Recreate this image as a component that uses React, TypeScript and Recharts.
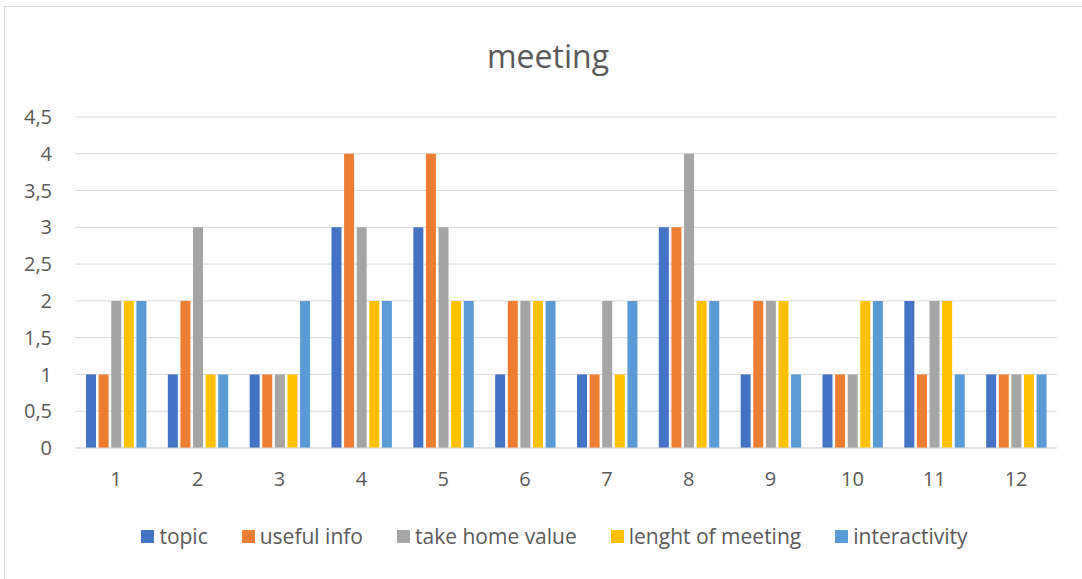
import React from 'react';
import { BarChart, Bar, XAxis, YAxis, CartesianGrid, Legend } from 'recharts';

const categories = ['1', '2', '3', '4', '5', '6', '7', '8', '9', '10', '11', '12'];
const topic = [1, 1, 1, 3, 3, 1, 1, 3, 1, 1, 2, 1];
const usefulInfo = [1, 2, 1, 4, 4, 2, 1, 3, 2, 1, 1, 1];
const takeHomeValue = [2, 3, 1, 3, 3, 2, 2, 4, 2, 1, 2, 1];
const lenghtOfMeeting = [2, 1, 1, 2, 2, 2, 1, 2, 2, 2, 2, 1];
const interactivity = [2, 1, 2, 2, 2, 2, 2, 2, 1, 2, 1, 1];
const yTicks = [0, 0.5, 1, 1.5, 2, 2.5, 3, 3.5, 4, 4.5];

const seriesNames = ['topic', 'useful info', 'take home value', 'lenght of meeting', 'interactivity'];
const seriesColors = ['#4472C4', '#ED7D31', '#A5A5A5', '#FFC000', '#5B9BD5'];
const seriesValues = [topic, usefulInfo, takeHomeValue, lenghtOfMeeting, interactivity];

const data = categories.map((c, i) => {
  const row: Record<string, string | number> = { name: c };
  seriesNames.forEach((s, k) => {
    row[s] = seriesValues[k][i];
  });
  return row;
});

const FONT = '"Open Sans", sans-serif';
const TEXT = '#595959';
const GRID = '#D9D9D9';

const renderLegend = () => (
  <div style={{ display: 'flex', justifyContent: 'center', alignItems: 'center', fontFamily: FONT, fontSize: 21, color: TEXT }}>
    {seriesNames.map((name, i) => (
      <div key={name} style={{ display: 'flex', alignItems: 'center', marginLeft: i === 0 ? 0 : 34 }}>
        <div style={{ width: 13, height: 13, background: seriesColors[i], marginRight: 5 }} />
        <span style={{ lineHeight: '24px' }}>{name}</span>
      </div>
    ))}
  </div>
);

export default function App() {
  return (
    <div style={{ position: 'absolute', left: 0, top: 0, width: 1082, height: 579, overflow: 'hidden', background: '#fff', fontFamily: FONT }}>
      <div style={{ position: 'absolute', left: 4, top: 6, width: 1120, height: 620, border: `1px solid ${GRID}`, boxSizing: 'border-box' }} />
      <div style={{ position: 'absolute', left: 0, top: 34, width: 1096, textAlign: 'center', fontSize: 32, color: TEXT, lineHeight: '44px' }}>
        meeting
      </div>
      <div style={{ position: 'absolute', left: 0, top: 0 }}>
        <BarChart
          width={1082}
          height={579}
          data={data}
          margin={{ top: 117, right: 25, bottom: 101, left: 15 }}
          barSize={10}
          barGap={2.6}
        >
          <CartesianGrid vertical={false} stroke={GRID} strokeWidth={1} />
          <XAxis
            dataKey="name"
            axisLine={{ stroke: GRID }}
            tickLine={false}
            tickSize={6}
            tickMargin={18}
            tick={{ fill: TEXT, fontSize: 20, fontFamily: FONT }}
            height={30}
            interval={0}
          />
          <YAxis
            width={60}
            domain={[0, 4.5]}
            ticks={yTicks}
            axisLine={false}
            tickLine={false}
            tickSize={6}
            tickMargin={17}
            tick={{ fill: TEXT, fontSize: 20, fontFamily: FONT }}
            tickFormatter={(v: number) => String(v).replace('.', ',')}
          />
          <Legend
            layout="horizontal"
            verticalAlign="middle"
            align="center"
            content={renderLegend}
            wrapperStyle={{ position: 'absolute', top: 524, left: 0, width: 1109 }}
          />
          {seriesNames.map((s, k) => (
            <Bar key={s} dataKey={s} name={s} fill={seriesColors[k]} isAnimationActive={false} />
          ))}
        </BarChart>
      </div>
    </div>
  );
}
